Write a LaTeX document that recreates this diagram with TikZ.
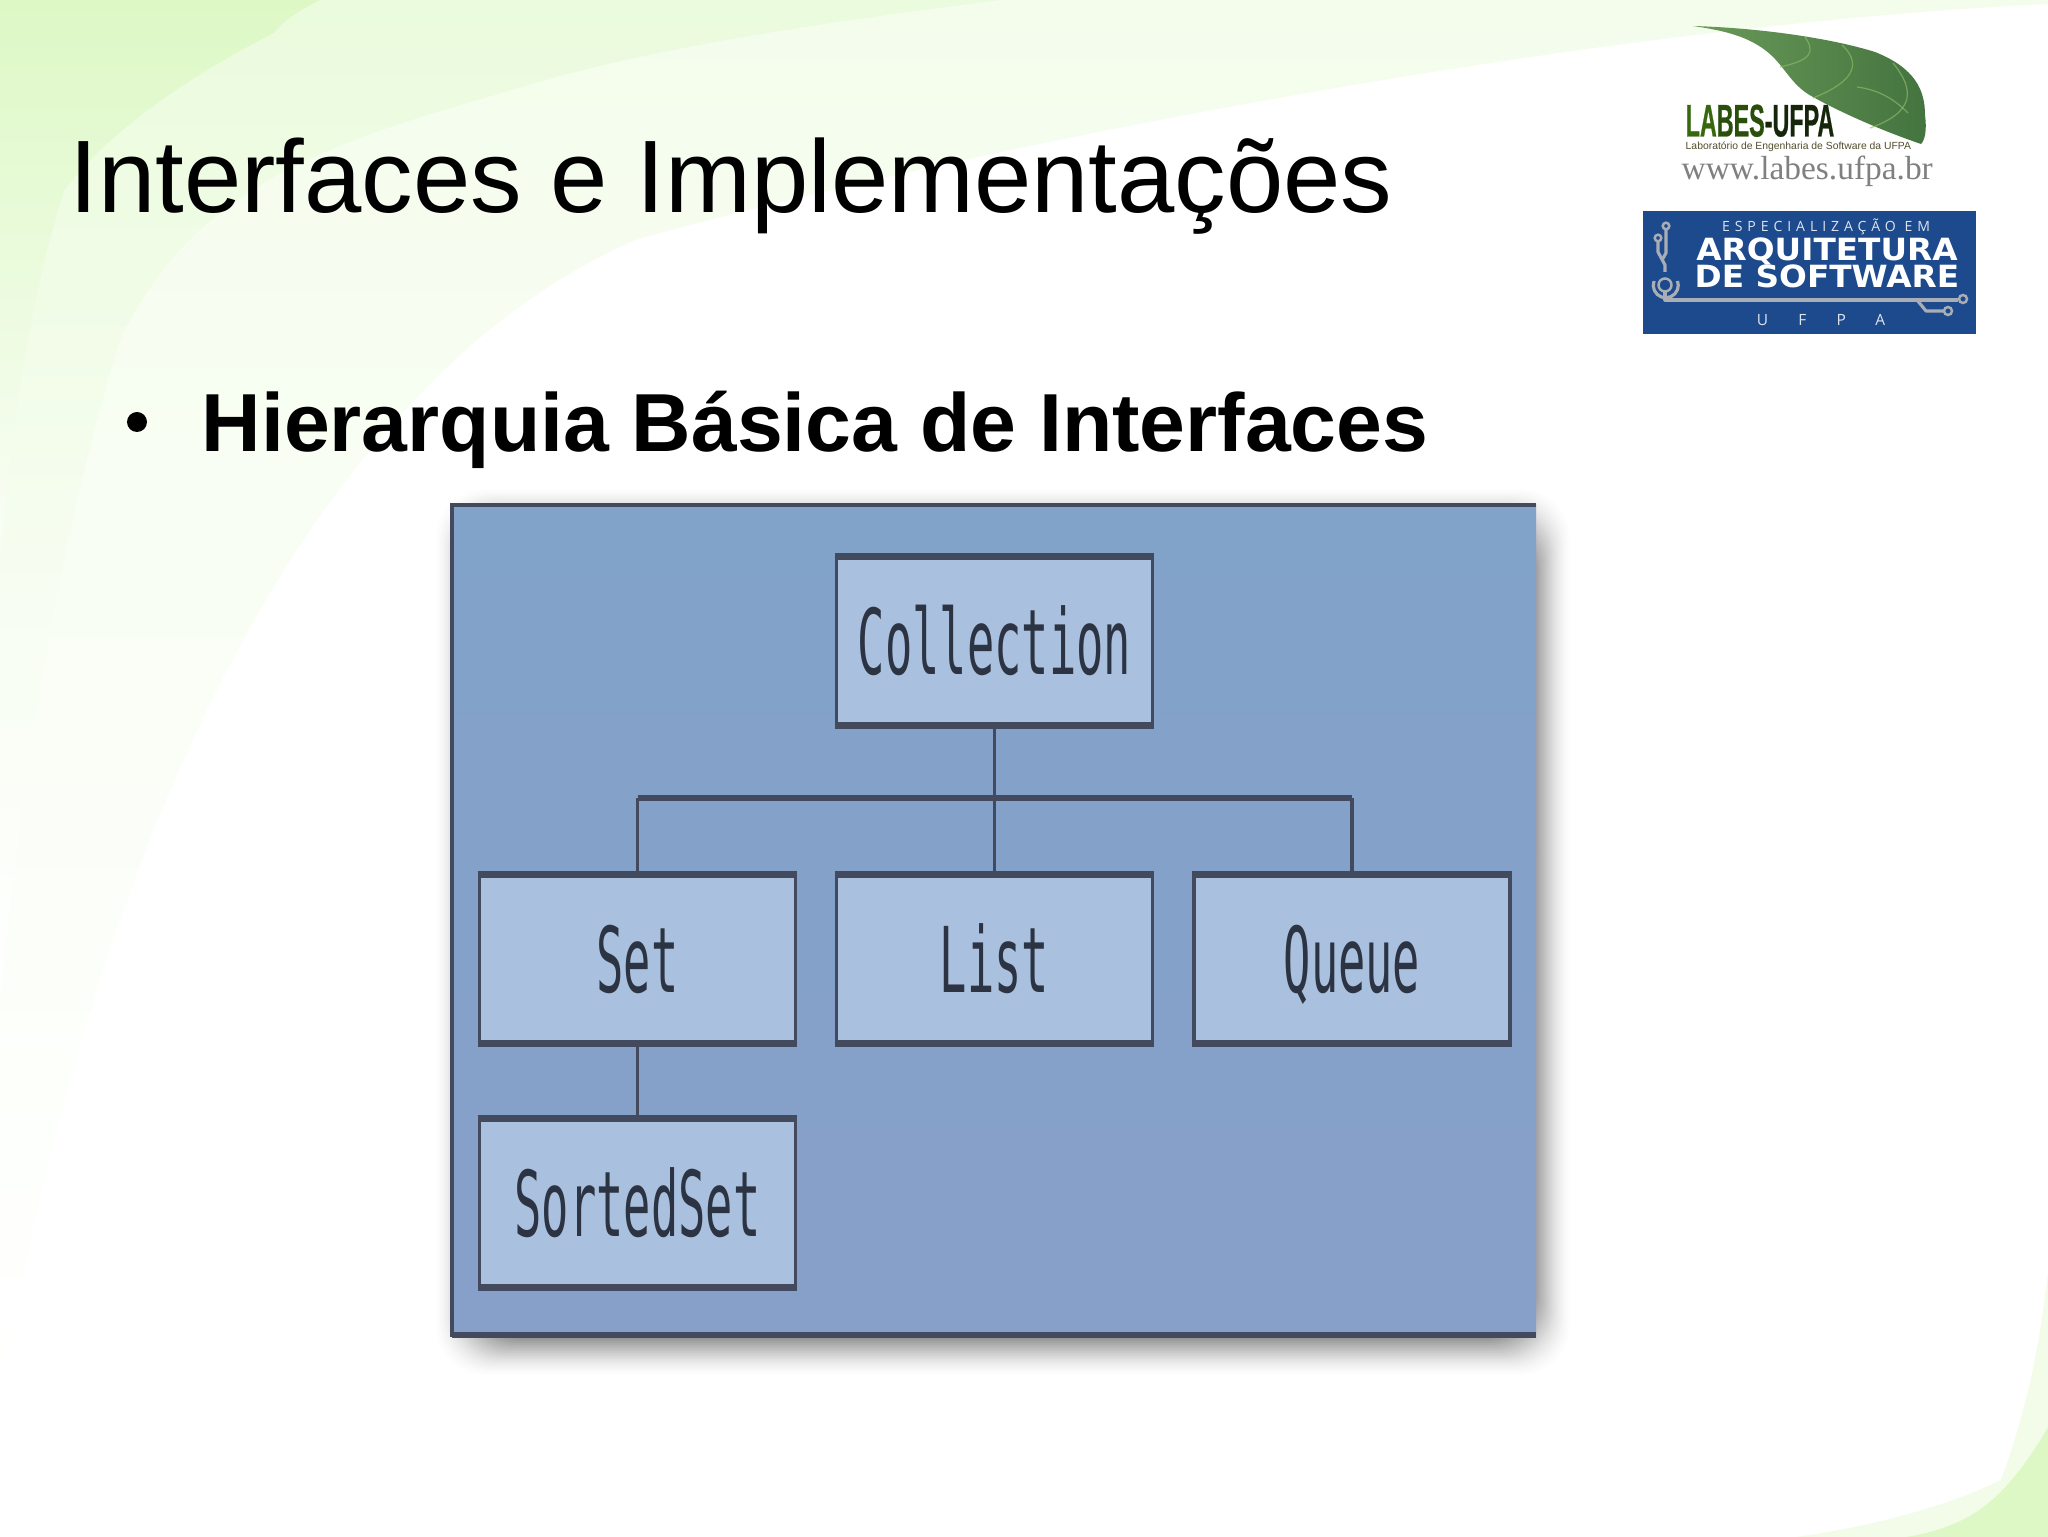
\documentclass[tikz,border=0pt]{standalone}
\usepackage{fontspec}
\setmainfont{Liberation Sans}
\newfontfamily\boxfont[FakeStretch=0.5]{DejaVu Sans Mono}
\newfontfamily\labesfont[FakeStretch=0.51,FakeBold=0.5]{Liberation Sans Bold}
\newfontfamily\serifweb{Liberation Serif}
\newfontfamily\specfont[LetterSpace=35]{Open Sans}
\newfontfamily\ufpafont[LetterSpace=195]{Open Sans}
\newfontfamily\archfont[FakeStretch=1.07]{DejaVu Sans Bold}
\usetikzlibrary{calc}
\definecolor{paleA}{HTML}{F4FDEC}
\definecolor{paleB}{HTML}{EBFBDD}
\definecolor{paleC}{HTML}{DDF8C5}
\definecolor{panelTop}{HTML}{81A2C9}
\definecolor{panelBot}{HTML}{87A0C9}
\definecolor{edgeDark}{HTML}{444A5E}
\definecolor{boxFill}{HTML}{A9C0DE}
\definecolor{textDark}{HTML}{2C3444}
\definecolor{leafA}{HTML}{6A9A58}
\definecolor{leafB}{HTML}{44743F}
\definecolor{vein}{HTML}{8FBB6A}
\definecolor{blueBan}{HTML}{1D4A8C}
\definecolor{wire}{HTML}{A9ADB5}
\definecolor{lab1}{HTML}{38680E}
\definecolor{lab2}{HTML}{2A4E0C}
\definecolor{lab3}{HTML}{16260A}
\tikzset{
  ibox/.style={draw=edgeDark,line width=1pt,fill=boxFill,minimum width=3.16cm,minimum height=1.66cm,inner sep=0pt,text=textDark,
    text height=1.0cm,text depth=0.33cm,
    font=\boxfont\fontsize{25.8}{26}\selectfont},
  iedge/.style={draw=edgeDark,line width=1.8pt},
  conn/.style={draw=edgeDark,line width=1pt},
  txt/.style={inner sep=0pt,anchor=base west},
  wireline/.style={draw=wire,line width=0.9pt,line join=round},
  wirering/.style={draw=wire,line width=0.7pt,fill=none},
  veinline/.style={draw=vein,line width=0.35pt,opacity=0.65},
}
\begin{document}
\begin{tikzpicture}[x=0.01cm,y=-0.01cm]
\useasboundingbox (0,0) rectangle (2048,1537);
\fill[white] (0,0) rectangle (2048,1537);
% background swooshes
\path[top color=paleA,bottom color=white,middle color=paleA!45!white,shading=axis]
  (0,0) -- (2048,0) -- (2048,4) .. controls (1600,25) and (1000,140) .. (638,239)
  .. controls (330,370) and (100,800) .. (0,1400) -- cycle;
\path[top color=paleB,bottom color=white,shading=axis]
  (0,0) -- (1000,0) .. controls (800,25) and (650,50) .. (542,81)
  .. controls (360,135) and (200,170) .. (120,340)
  .. controls (70,500) and (30,700) .. (0,1000) -- cycle;
\path[top color=paleC,bottom color=paleC!15!white,shading=axis]
  (0,0) -- (320,0) .. controls (290,15) and (280,25) .. (274,33)
  .. controls (180,80) and (100,140) .. (64,191)
  .. controls (30,300) and (15,400) .. (0,560) -- cycle;
\fill[paleA!90!paleC] (1796,1537) .. controls (1880,1525) and (1950,1505) .. (2001,1480)
  .. controls (2030,1400) and (2040,1340) .. (2048,1273) -- (2048,1537) -- cycle;
\fill[paleC] (1906,1537) .. controls (1950,1530) and (1975,1515) .. (1992,1500)
  .. controls (2015,1480) and (2035,1450) .. (2048,1427) -- (2048,1537) -- cycle;
% title and bullet
\node[txt,font=\fontsize{29.3}{30}\selectfont,text=black] (title) at (69,213) {Interfaces e Implementações};
\fill[black] (137,422) circle (10);
\node[txt,font=\bfseries\fontsize{23.42}{25}\selectfont,text=black] (sub) at (201,452) {Hierarquia Básica de Interfaces};
% panel with soft shadow
\foreach \r in {28,26,...,-8}{
  \pgfmathsetmacro{\shadeop}{0.006+0.04*(28-\r)/36}
  \fill[black,opacity=\shadeop,rounded corners=14] ({452+12-\r},{505+12-\r}) rectangle ({1536+6+\r},{1337+10+\r});
}
\shade[top color=panelTop,bottom color=panelBot] (452,505) rectangle (1536,1337);
\draw[edgeDark,line width=1pt] (1536,505) -- (452,505) -- (452,1337);
\draw[edgeDark,line width=1.5pt] (452,1335) -- (1536,1335);
% nodes
\node[ibox] (coll) at (994.5,641) {Collection};
\node[ibox] (setn) at (637.5,959) {Set};
\node[ibox] (listn) at (994.5,959) {List};
\node[ibox] (queuen) at (1352,959) {Queue};
\node[ibox] (sorted) at (637.5,1203) {SortedSet};
\coordinate (bus) at (994.5,798);
% connectors
\draw[conn] (coll.south) -- (listn.north);
\draw[conn,line width=1.5pt] (setn.north |- bus) -- (queuen.north |- bus);
\draw[conn] (setn.north |- bus) -- (setn.north);
\draw[conn] (queuen.north |- bus) -- (queuen.north);
\draw[conn] (setn.south) -- (sorted.north);
% thick top and bottom rims of the boxes
\foreach \n in {coll,setn,listn,queuen,sorted}{
  \draw[iedge] (\n.north west) -- (\n.north east);
  \draw[iedge] (\n.south west) -- (\n.south east);
}
% leaf
\shade[left color=leafA,right color=leafB] (1693,26)
  .. controls (1760,28) and (1830,38) .. (1875,52)
  .. controls (1915,68) and (1925,90) .. (1925,115)
  .. controls (1927,130) and (1925,140) .. (1921,144)
  .. controls (1880,130) and (1840,112) .. (1813,97)
  .. controls (1790,85) and (1785,65) .. (1765,50)
  .. controls (1745,35) and (1720,30) .. (1693,26) -- cycle;
\draw[veinline] (1805,37) .. controls (1815,52) and (1812,60) .. (1780,67);
\draw[veinline] (1842,45) .. controls (1860,62) and (1858,80) .. (1813,98);
\draw[veinline] (1893,63) .. controls (1915,90) and (1915,112) .. (1870,128);
\draw[veinline] (1857,87) .. controls (1880,90) and (1895,100) .. (1908,113);
% logo text
\node[txt,font=\labesfont\fontsize{13}{13}\selectfont] (labes) at (1685,136.5)
  {\textcolor{lab1}{LA}\textcolor{lab2}{BES}\textcolor{lab3}{-UFPA}};
\node[txt,font=\fontsize{2.95}{3}\selectfont,text=black!55!olive] (labor) at (1685,150) {Laboratório de Engenharia de Software da UFPA};
\node[txt,font=\serifweb\fontsize{9.5}{10}\selectfont,text=black!50!white] (web) at (1681,180) {www.labes.ufpa.br};
% banner
\fill[blueBan] (1643,211) rectangle (1976,334);
\node[inner sep=0pt,font=\specfont\fontsize{4}{4}\selectfont,text=white!85!blueBan] (spec) at (1826,227) {ESPECIALIZAÇÃO EM};
\node[inner sep=0pt,font=\archfont\fontsize{8.7}{9}\selectfont,text=white] (arq) at (1827,251) {ARQUITETURA};
\node[inner sep=0pt,font=\archfont\fontsize{8.7}{9}\selectfont,text=white] (soft) at (1827,276) {DE SOFTWARE};
\node[inner sep=0pt,font=\ufpafont\fontsize{4.4}{4.4}\selectfont,text=white!85!blueBan] (ufpa) at (1821,320) {UFPA};
% circuit
\draw[wireline] (1665,290) -- (1665,300) -- (1920,300) -- (1958,300);
\draw[wireline] (1917,300) -- (1926,311) -- (1944,311);
\draw[wirering] (1963,299) circle (4);
\draw[wirering] (1948,311) circle (4);
\draw[wirering] (1665,285) circle (6.5);
\draw[wireline] (1654,281) arc (200:-20:12.5);
\draw[wirering] (1666,226) circle (3.3);
\draw[wirering] (1658,238) circle (3.3);
\draw[wireline] (1666,230) -- (1666,253) -- (1662,260);
\draw[wireline] (1658,242) -- (1658,252) -- (1665,265) -- (1665,272);
\end{tikzpicture}
\end{document}
